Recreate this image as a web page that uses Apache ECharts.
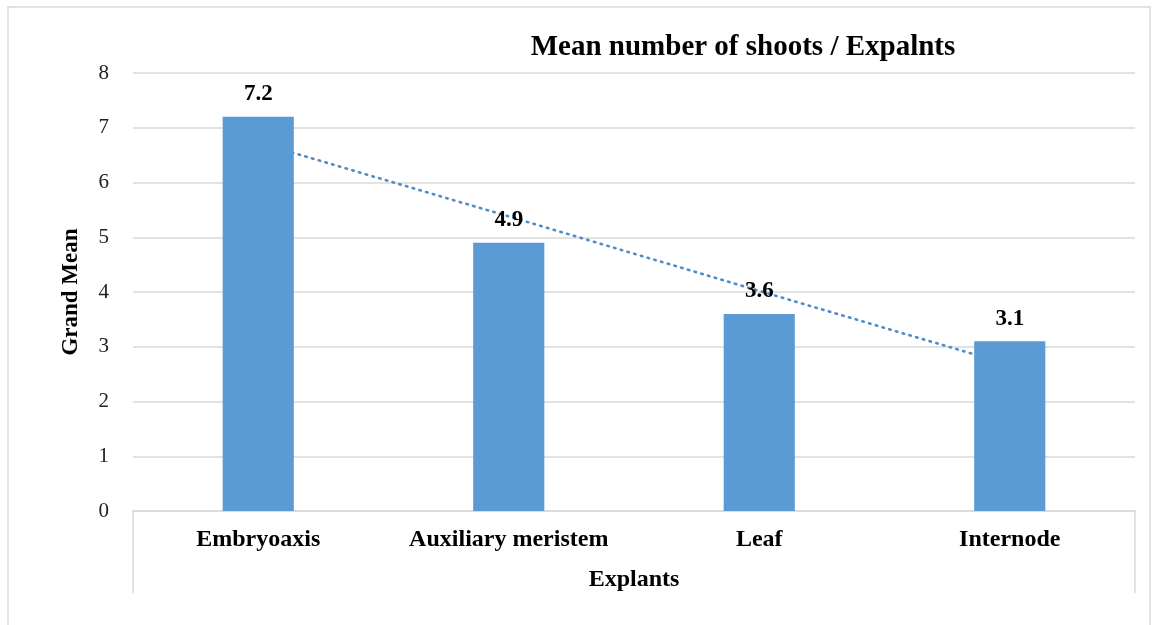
<!DOCTYPE html>
<html>
<head>
<meta charset="utf-8">
<script src="https://cdn.jsdelivr.net/npm/echarts@6/dist/echarts.min.js"></script>
<style>
  html, body { margin: 0; padding: 0; background: #fff; }
  #chart { width: 1157px; height: 625px; }
</style>
</head>
<body>
<div id="chart"></div>
<script>
// Explant types and their mean shoot counts
const categories = ['Embryoaxis', 'Auxiliary meristem', 'Leaf', 'Internode'];
const grandMean = [7.2, 4.9, 3.6, 3.1];
// Linear trend line values at each category
const trendValues = [6.73, 5.38, 4.02, 2.67];
const yTicks = [0, 1, 2, 3, 4, 5, 6, 7, 8];

const SERIF = "'Liberation Serif', 'Times New Roman', serif";
const GRID = { left: 133, right: 22, top: 73, bottom: 114 };

const chart = echarts.init(document.getElementById('chart'), null, { renderer: 'canvas' });

const option = {
  backgroundColor: '#ffffff',
  animation: false,
  title: {
    text: 'Mean number of shoots / Expalnts',
    left: 738,
    top: 28,
    textAlign: 'center',
    textStyle: { fontFamily: SERIF, fontWeight: 'bold', fontSize: 29, color: '#000' }
  },
  grid: GRID,
  xAxis: {
    type: 'category',
    data: categories,
    name: 'Explants',
    nameLocation: 'middle',
    nameGap: 57,
    nameTextStyle: { fontFamily: SERIF, fontWeight: 'bold', fontSize: 24, color: '#000' },
    axisLine: { show: true, lineStyle: { color: '#d9d9d9', width: 1.5 } },
    axisTick: { show: false },
    axisLabel: {
      interval: 0,
      hideOverlap: false,
      margin: 17,
      fontFamily: SERIF, fontWeight: 'bold', fontSize: 24, color: '#000'
    }
  },
  yAxis: {
    type: 'value',
    min: yTicks[0],
    max: yTicks[yTicks.length - 1],
    interval: 1,
    name: 'Grand Mean',
    nameLocation: 'middle',
    nameRotate: 90,
    nameGap: 50,
    nameTextStyle: { fontFamily: SERIF, fontWeight: 'bold', fontSize: 23, color: '#000' },
    axisLine: { show: false },
    axisTick: { show: false },
    axisLabel: { margin: 24, fontFamily: SERIF, fontSize: 21, color: '#222' },
    splitLine: { lineStyle: { color: '#d9d9d9', width: 1.5 } }
  },
  series: [
    {
      name: 'Linear trend',
      type: 'line',
      data: trendValues,
      z: 1,
      symbol: 'none',
      silent: true,
      lineStyle: { color: '#4f8cc6', width: 2.6, type: [1.5, 5.5], cap: 'round' }
    },
    {
      name: 'Grand Mean',
      type: 'bar',
      data: grandMean,
      z: 2,
      barWidth: '28.4%',
      itemStyle: { color: '#5b9bd5' },
      label: {
        show: true,
        position: 'top',
        distance: 11,
        fontFamily: SERIF, fontWeight: 'bold', fontSize: 23, color: '#000',
        formatter: p => p.value.toFixed(1)
      }
    }
  ]
};

chart.setOption(option);

// Frame around the chart and the box enclosing the category axis
const plotLeft = GRID.left;
const plotRight = 1157 - GRID.right;
const plotBottom = 625 - GRID.bottom;
chart.setOption({
  graphic: [
    {
      type: 'rect', silent: true, z: -1,
      shape: { x: 8, y: 7, width: 1142, height: 640 },
      style: { fill: null, stroke: '#d9d9d9', lineWidth: 1.5 }
    },
    {
      type: 'line', silent: true,
      shape: { x1: plotLeft, y1: plotBottom, x2: plotLeft, y2: plotBottom + 82 },
      style: { stroke: '#d9d9d9', lineWidth: 1.5 }
    },
    {
      type: 'line', silent: true,
      shape: { x1: plotRight, y1: plotBottom, x2: plotRight, y2: plotBottom + 82 },
      style: { stroke: '#d9d9d9', lineWidth: 1.5 }
    }
  ]
});
</script>
</body>
</html>
